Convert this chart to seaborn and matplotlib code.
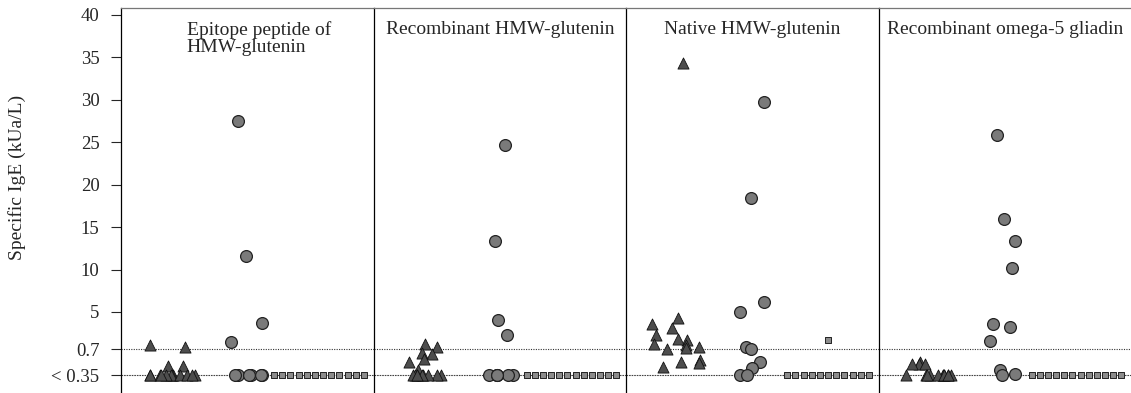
import numpy as np
import matplotlib
matplotlib.use('Agg')
import matplotlib.pyplot as plt
import pandas as pd
import seaborn as sns

# antigens (panels) and the three patient groups in each panel
antigens = ['Epitope peptide of\nHMW-glutenin', 'Recombinant HMW-glutenin',
            'Native HMW-glutenin', 'Recombinant omega-5 gliadin']
groups = ['triangle', 'circle', 'square']

# specific IgE values (kUa/L), values < 0.35 plotted at 0.35
tri_epitope = [1.15, 0.93, 0.47, 0.47] + [0.35] * 12
tri_recomb = [1.28, 0.97, 0.63, 0.65, 0.52, 0.57, 0.42] + [0.35] * 9
tri_native = [34.3, 4.3, 3.1, 3.6, 2.3, 1.7, 1.9, 1.2, 0.9, 0.8, 1.3, 0.75,
              0.53, 0.46, 0.55, 0.51]
tri_omega5 = [0.52, 0.5, 0.5, 0.5] + [0.35] * 12

circ_epitope = [27.5, 11.6, 3.7, 1.5] + [0.35] * 6
circ_recomb = [24.7, 13.4, 4.1, 2.3] + [0.35] * 6
circ_native = [29.7, 18.4, 6.2, 5.0, 0.93, 0.7, 0.52, 0.44, 0.35, 0.35]
circ_omega5 = [25.9, 16.0, 13.4, 10.2, 3.6, 3.3, 1.6, 0.42, 0.36, 0.35]

sq_epitope = [0.35] * 12
sq_recomb = [0.35] * 12
sq_native = [1.75] + [0.35] * 11
sq_omega5 = [0.35] * 12

tri_all = [tri_epitope, tri_recomb, tri_native, tri_omega5]
circ_all = [circ_epitope, circ_recomb, circ_native, circ_omega5]
sq_all = [sq_epitope, sq_recomb, sq_native, sq_omega5]

ytick_vals = [0.35, 0.7, 5, 10, 15, 20, 25, 30, 35, 40]
ytick_labels = ['< 0.35', '0.7', '5', '10', '15', '20', '25', '30', '35', '40']

# slot of each group along x inside a panel (numeric so the swarm can be wide)
group_slot = {'triangle': 0.0, 'circle': 0.5, 'square': 1.0}

# build one long table
rows = []
for i, name in enumerate(antigens):
    for g, vals in zip(groups, [tri_all[i], circ_all[i], sq_all[i]]):
        for v in vals:
            rows.append((name, g, group_slot[g], v))
df = pd.DataFrame(rows, columns=['antigen', 'group', 'slot', 'value'])

# stretched region below 5 like the original axis
knots_v = [0.0, 0.35, 0.7, 5, 40, 50]
knots_p = [-26, 0, 26, 63, 360, 445]


def fwd(v):
    return np.interp(v, knots_v, knots_p)


def inv(p):
    return np.interp(p, knots_p, knots_v)


sns.set_style('white')
plt.rcParams['font.family'] = ['Liberation Serif', 'DejaVu Serif']

fig, axes = plt.subplots(1, 4, figsize=(11.31, 3.93), dpi=100, sharey=True)
fig.subplots_adjust(left=0.107, right=1.0, top=0.98, bottom=0.0, wspace=0)

np.random.seed(7)
title_x = [0.26, 0.5, 0.5, 0.5]
for i, ax in enumerate(axes):
    sub = df[df['antigen'] == antigens[i]]
    ax.set_yscale('function', functions=(fwd, inv))
    ax.axhline(0.7, color='#333333', lw=0.8, ls=(0, (1, 1.2)), zorder=1)
    ax.axhline(0.35, color='#444444', lw=0.8, ls=(0, (1.5, 0.8)), zorder=1)

    sns.stripplot(data=sub[sub['group'] == 'triangle'], x='slot', y='value', native_scale=True,
                  marker='^', size=8, color='#4d4d4d', edgecolor='#111111', linewidth=0.6,
                  jitter=0.165, ax=ax, zorder=3)
    sns.stripplot(data=sub[sub['group'] == 'circle'], x='slot', y='value', native_scale=True,
                  marker='o', size=8.5, color='#7a7a7a', edgecolor='#222222', linewidth=0.9,
                  jitter=0.11, ax=ax, zorder=3)
    sns.swarmplot(data=sub[sub['group'] == 'square'], x='slot', y='value', native_scale=True,
                  marker='s', size=4.9, color='#8c8c8c', edgecolor='#222222', linewidth=0.7,
                  ax=ax, zorder=3)

    ax.set_xlim(-0.333, 1.333)
    ax.set_ylim(0.108, 40.82)
    ax.set_xticks([])
    ax.set_xlabel('')
    ax.set_ylabel('')
    for s in ['left', 'top']:
        ax.spines[s].set_visible(True)
        ax.spines[s].set_color('black')
        ax.spines[s].set_linewidth(0.9)
    ax.spines['top'].set_color('#777777')
    ax.spines['right'].set_visible(False)
    ax.spines['bottom'].set_visible(False)
    ax.text(title_x[i], 0.965, antigens[i], transform=ax.transAxes, ha='center' if i else 'left',
            va='top', fontsize=14, linespacing=1.0)
    if i > 0:
        ax.tick_params(axis='y', left=False, labelleft=False)

axes[0].set_yticks(ytick_vals)
axes[0].set_yticklabels(ytick_labels)
axes[0].yaxis.set_minor_locator(matplotlib.ticker.NullLocator())
axes[0].tick_params(axis='y', direction='out', length=7.5, width=0.8, labelsize=13.5, pad=8, left=True)
axes[0].set_ylabel('Specific IgE (kUa/L)', fontsize=14)
axes[0].yaxis.set_label_coords(-0.375, 0.56)

fig.savefig('out.png', dpi=100)
